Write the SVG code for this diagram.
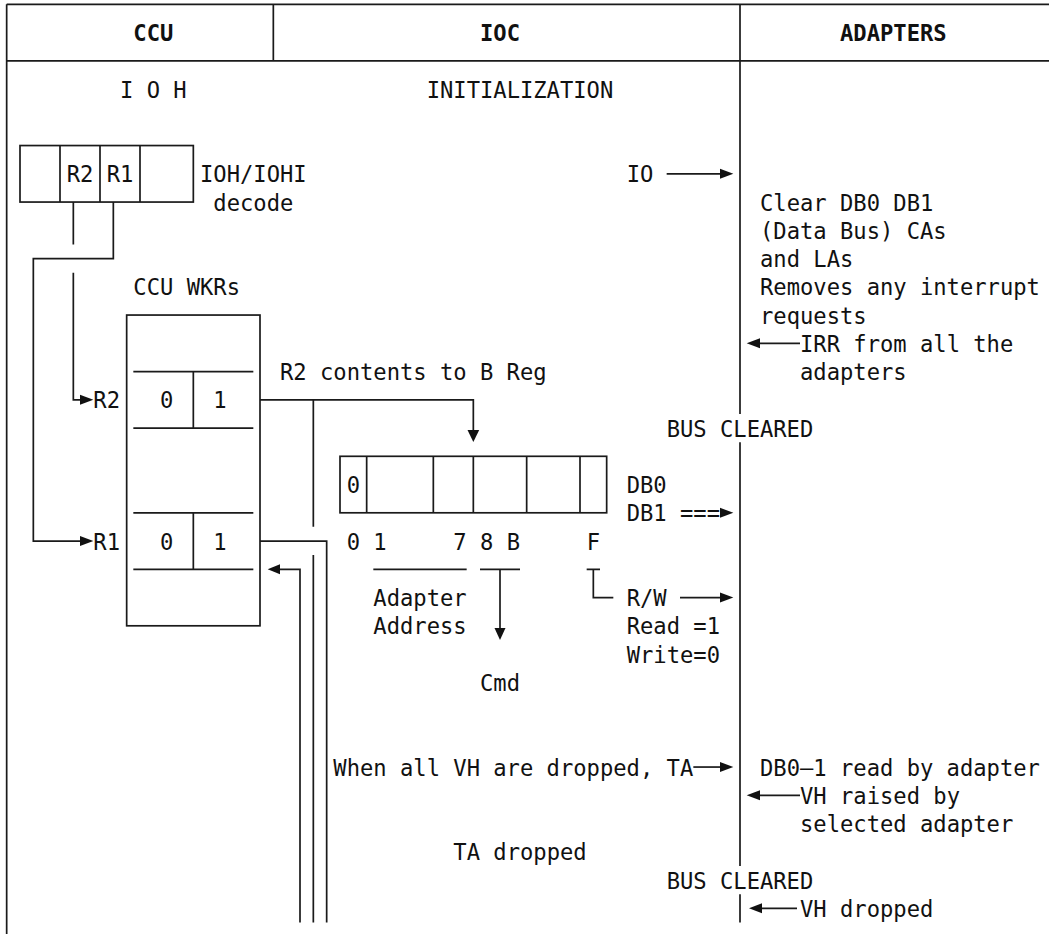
<svg xmlns="http://www.w3.org/2000/svg" width="1049" height="934" viewBox="0 0 1049 934">
<style>
text{font-family:"DejaVu Sans Mono","Liberation Mono",monospace;font-size:22.15px;fill:#111;white-space:pre}
.b{font-weight:bold}
.m{text-anchor:middle}
.ln{fill:none;stroke:#1a1a1a;stroke-width:1.7}
.hd{fill:#111;stroke:none}
</style>
<rect width="1049" height="934" fill="#fff"/>

<g id="frame" class="ln">
<path d="M6.67 4.3H1049M6.67 60.8H1049M6.67 4.3V934M273.33 4.3V60.8"/>
<path d="M740 4.3V413.9M740 442.2V865.9M740 894.2V922.4"/>
</g>
<g id="headers">
<text class="b m" x="153.33" y="41">CCU</text>
<text class="b m" x="500" y="41">IOC</text>
<text class="b m" x="893.33" y="41">ADAPTERS</text>
</g>

<g id="titles">
<text x="120" y="97.5">I O H</text>
<text x="426.67" y="97.5">INITIALIZATION</text>
</g>

<g id="ioh-decode">
<rect class="ln" x="20" y="145.55" width="173.33" height="56.5"/>
<path class="ln" d="M60 145.55V202.05M100 145.55V202.05M140 145.55V202.05"/>
<text x="66.67" y="182.3">R2</text>
<text x="106.67" y="182.3">R1</text>
<text x="200" y="182.3">IOH/IOHI</text>
<text x="213.33" y="210.55">decode</text>
</g>

<g id="ccu-wkrs">
<text x="133.33" y="295.3">CCU WKRs</text>
<rect class="ln" x="126.67" y="315.05" width="133.33" height="310.75"/>
<path class="ln" d="M133.33 371.55H253.33M133.33 428.05H253.33M193.33 371.55V428.05"/>
<path class="ln" d="M133.33 512.8H253.33M133.33 569.3H253.33M193.33 512.8V569.3"/>
<text class="m" x="166.67" y="408.3">0</text>
<text class="m" x="220" y="408.3">1</text>
<text class="m" x="166.67" y="549.55">0</text>
<text class="m" x="220" y="549.55">1</text>
<text x="93.33" y="408.3">R2</text>
<text x="93.33" y="549.55">R1</text>
</g>

<g id="b-reg">
<rect class="ln" x="340" y="456.3" width="266.67" height="56.5"/>
<path class="ln" d="M366.67 456.3V512.8M433.33 456.3V512.8M473.33 456.3V512.8M526.67 456.3V512.8M580 456.3V512.8"/>
<text class="m" x="353.33" y="493.05">0</text>
<text class="m" x="353.33" y="549.55">0</text>
<text class="m" x="380" y="549.55">1</text>
<text class="m" x="460" y="549.55">7</text>
<text class="m" x="486.67" y="549.55">8</text>
<text class="m" x="513.33" y="549.55">B</text>
<text class="m" x="593.33" y="549.55">F</text>
<path class="ln" d="M373.33 569.3H466.67M480 569.3H520"/>
<text x="373.33" y="606.05">Adapter</text>
<text x="373.33" y="634.3">Address</text>
<text x="480" y="690.8">Cmd</text>
<text x="626.67" y="493.05">DB0</text>
<text x="626.67" y="521.3">DB1 ===</text>
<text x="626.67" y="606.05">R/W</text>
<text x="626.67" y="634.3">Read =1</text>
<text x="626.67" y="662.55">Write=0</text>
</g>

<g id="ioc-texts">
<text x="280" y="380.05">R2 contents to B Reg</text>
<text x="626.67" y="182.3">IO</text>
<text x="333.33" y="775.55">When all VH are dropped, TA</text>
<text x="453.33" y="860.3">TA dropped</text>
</g>

<g id="adapter-texts">
<text x="760" y="210.55">Clear DB0 DB1</text>
<text x="760" y="238.8">(Data Bus) CAs</text>
<text x="760" y="267.05">and LAs</text>
<text x="760" y="295.3">Removes any interrupt</text>
<text x="760" y="323.55">requests</text>
<text x="800" y="351.8">IRR from all the</text>
<text x="800" y="380.05">adapters</text>
<text x="666.67" y="436.55">BUS CLEARED</text>
<text x="760" y="775.55">DB0—1 read by adapter</text>
<text x="800" y="803.8">VH raised by</text>
<text x="800" y="832.05">selected adapter</text>
<text x="666.67" y="888.55">BUS CLEARED</text>
<text x="800" y="916.8">VH dropped</text>
</g>

<g id="connectors">
<path class="ln" d="M73.33 202.05V244.4M73.33 272.7V399.8H80"/>
<polygon class="hd" points="80,394.8 93.33,399.8 80,404.8"/>
<path class="ln" d="M113.33 202.05V258.55H33.33V541.05H80"/>
<polygon class="hd" points="80,536.05 93.33,541.05 80,546.05"/>
<path class="ln" d="M260 399.8H473.33V430"/>
<polygon class="hd" points="467.5,430 479.2,430 473.33,442"/>
<path class="ln" d="M313.33 399.8V526.7M313.33 555V922.4"/>
<path class="ln" d="M260 541.05H326.67V922.4"/>
<path class="ln" d="M300 922.4V569.3H280"/>
<polygon class="hd" points="280,564.3 267.67,569.3 280,574.3"/>
<path class="ln" d="M500 569.3V628"/>
<polygon class="hd" points="494.5,628 505.5,628 500,640"/>
<path class="ln" d="M586.67 569.3H600M593.33 569.3V597.55H613.33"/>
<path class="ln" d="M666.67 173.8H720"/>
<polygon class="hd" points="720,168.8 733.33,173.8 720,178.8"/>
<polygon class="hd" points="720,507.8 733.33,512.8 720,517.8"/>
<path class="ln" d="M680 597.55H720"/>
<polygon class="hd" points="720,592.55 733.33,597.55 720,602.55"/>
<path class="ln" d="M693.33 767.05H720"/>
<polygon class="hd" points="720,762.05 733.33,767.05 720,772.05"/>
<path class="ln" d="M760 343.3H800"/>
<polygon class="hd" points="760,338.3 746.67,343.3 760,348.3"/>
<path class="ln" d="M760 795.3H800"/>
<polygon class="hd" points="760,790.3 746.67,795.3 760,800.3"/>
<path class="ln" d="M762 908.3H797"/>
<polygon class="hd" points="762,903.3 749,908.3 762,913.3"/>
</g>
</svg>
